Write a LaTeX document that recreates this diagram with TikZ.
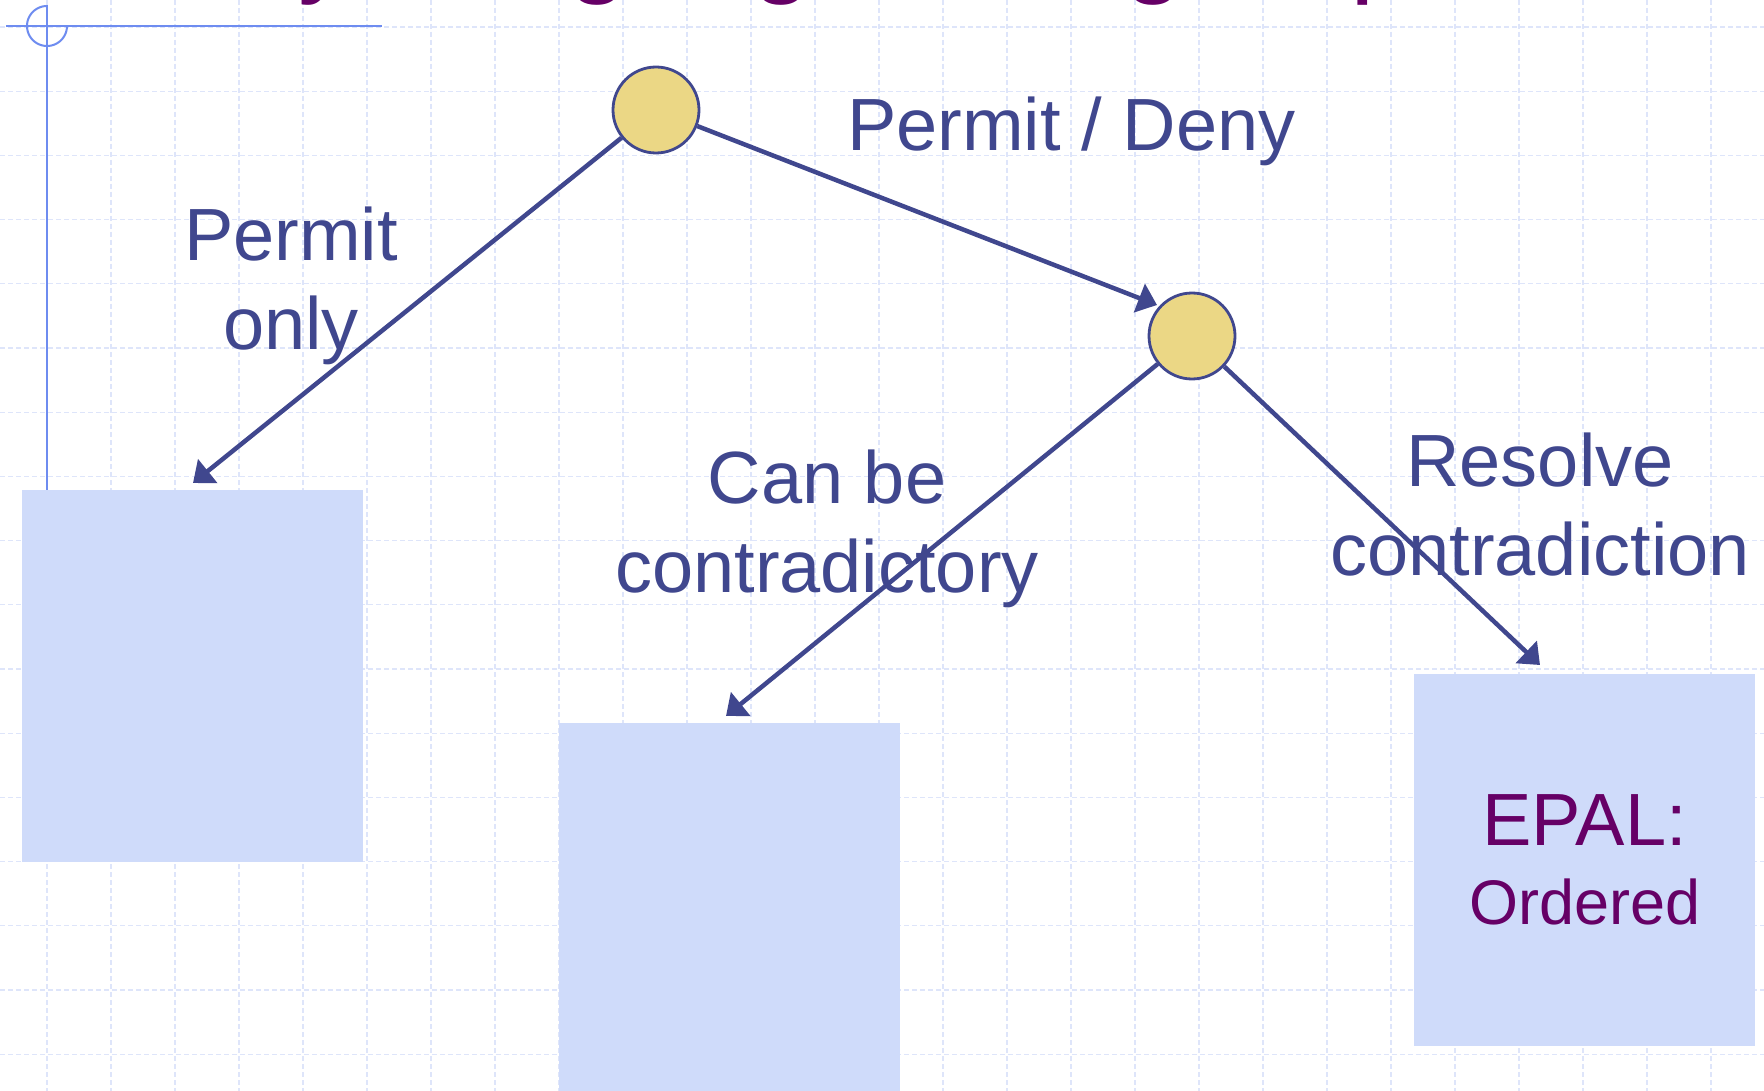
\documentclass[tikz,border=0pt]{standalone}
\usepackage{fontspec}
\setmainfont{Liberation Sans}
\usetikzlibrary{arrows.meta}
\definecolor{ink}{RGB}{64,71,142}
\definecolor{plum}{RGB}{102,0,102}
\definecolor{sand}{RGB}{235,215,133}
\definecolor{pale}{RGB}{207,219,250}
\definecolor{gridblue}{RGB}{222,229,250}
\definecolor{guide}{RGB}{110,140,240}
\begin{document}
\begin{tikzpicture}[x=1pt,y=-1pt,
  decision/.style={circle, draw=ink, line width=2.8pt, fill=sand, minimum size=86pt, inner sep=0pt},
  panel/.style={rectangle, fill=pale, minimum width=341pt, inner sep=0pt, anchor=north west},
  edge/.style={draw=ink, line width=4.5pt, -{Triangle[length=19pt,width=30pt]}},
  tag/.style={text=ink, font=\fontsize{74}{89}\selectfont, align=center, inner sep=0pt, anchor=base},
  gridline/.style={draw=gridblue, line width=1.2pt, dash pattern=on 5pt off 3pt},
  guideline/.style={draw=guide, line width=2pt},
]
\useasboundingbox (0,0) rectangle (1764,1091);
\fill[white] (0,0) rectangle (1764,1091);
\clip (0,0) rectangle (1764,1091);

% background grid
\foreach \k in {0,...,26} \draw[gridline] ({47+64*\k},0) -- ({47+64*\k},1091);
\foreach \k in {0,...,16} \draw[gridline] (0,{27+64.2*\k}) -- (1764,{27+64.2*\k});

% title, mostly above the top edge
\node[anchor=base west, inner sep=0pt, text=plum, font=\fontsize{110}{132}\selectfont]
  (title) at (60,-17) {Policy Language Design Space};

% corner guide mark
\draw[guideline] (6,26) -- (382,26);
\draw[guideline] (47,5) -- (47,490);
\draw[guideline] plot[domain=90:360, samples=60] ({47+20*cos(\x)}, {26-20*sin(\x)});

% outcome panels
\node[panel, minimum height=372pt] (box1) at (22,490) {};
\node[panel, minimum height=380pt] (box2) at (559,723) {};
\node[panel, minimum height=372pt, text=plum, align=center,
      font=\fontsize{74}{79}\selectfont] (box3) at (1414,674)
  {EPAL:\\{\fontsize{63}{79}\selectfont Ordered}};

% decision points
\node[decision] (n1) at (656,110) {};
\node[decision] (n2) at (1192,336) {};

% arrow ends just above the panels
\coordinate (t1) at (193,483);
\coordinate (t2) at (1157,305);
\coordinate (t3) at (726,716);
\coordinate (t4) at (1540,665);

\draw[edge] (n1) -- (t1);
\draw[edge] (n1) -- (t2);
\draw[edge] (n2) -- (t3);
\draw[edge] (n2) -- (t4);

% branch labels (anchored on the baseline of the last line)
\node[tag] (lblA) at (291,349) {Permit\\only};
\node[tag, anchor=base west] (lblB) at (847,151) {Permit / Deny};
\node[tag] (lblC) at (827,592) {Can be\\contradictory};
\node[tag] (lblD) at (1540,575) {Resolve\\contradiction};
\end{tikzpicture}
\end{document}
